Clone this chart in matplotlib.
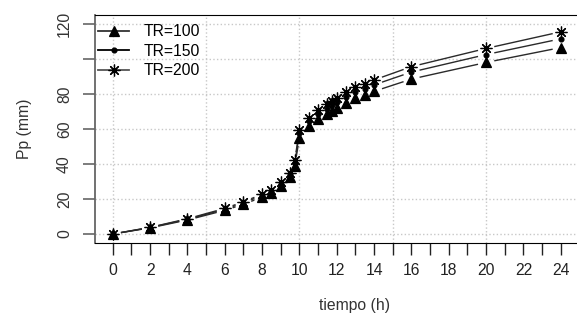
import numpy as np
import matplotlib.pyplot as plt
from matplotlib.lines import Line2D

plt.rcParams['font.family'] = ['Liberation Sans', 'DejaVu Sans']

# datos
tiempo = [0, 2, 4, 6, 7, 8, 8.5, 9, 9.5, 9.75, 10, 10.5, 11, 11.5, 11.75, 12,
          12.5, 13, 13.5, 14, 16, 20, 24]
tr100 = [0, 3.5, 8, 13.5, 17, 21, 23.5, 27.5, 32.5, 39, 55, 61.5, 65.5, 68.5,
         70.5, 72, 75, 77.5, 79.5, 81.5, 88.5, 98, 106.5]
tr150 = [0, 3.7, 8.4, 14.1, 17.8, 22, 24.6, 28.7, 34, 40.8, 57.5, 64.3, 68.4,
         71.6, 73.7, 75.2, 78.4, 81, 83.1, 85.2, 92.5, 102.5, 111.5]
tr200 = [0, 3.8, 8.7, 14.6, 18.4, 22.7, 25.4, 29.7, 35.1, 42.1, 59.4, 66.4,
         70.7, 74, 76.1, 77.8, 81, 83.7, 85.9, 88, 95.6, 106, 115.5]
etiquetas = ["TR=100", "TR=150", "TR=200"]

xticks = list(range(0, 25))
xticklabels = [str(t) if t % 2 == 0 else "" for t in xticks]
yticks = [0, 20, 40, 60, 80, 100, 120]
yticklabels = ["0", "20", "40", "60", "80", "", "120"]
grid_x = [0, 5, 10, 15, 20]

fs = 11.3
fig = plt.figure(figsize=(5.77, 3.2), dpi=100)
# el grafico original esta recortado a la derecha: el eje sigue fuera de la imagen
ax = fig.add_axes([95 / 577, 77 / 320, 520 / 577, 228 / 320])
ax.set_xlim(-0.95, -0.95 + 520 / 18.67)
ax.set_ylim(-5.14, 125.1)

# rejilla punteada
for gx in grid_x:
    ax.axvline(gx, ls=':', color='#c8c8c8', lw=1, zorder=0)
for gy in yticks:
    ax.axhline(gy, ls=':', color='#c8c8c8', lw=1, zorder=0)


def segmentos(x, y, gap=9):
    # como type="b" de R: lineas cortadas alrededor de los puntos
    pts = ax.transData.transform(np.column_stack([x, y]))
    inv = ax.transData.inverted()
    out = []
    for p0, p1 in zip(pts[:-1], pts[1:]):
        d = p1 - p0
        L = np.hypot(*d)
        if L <= 2 * gap:
            continue
        u = d / L
        out.append(inv.transform([p0 + u * gap, p1 - u * gap]))
    return out


estilos = [('^', 6.5, '#333333'), ('o', 3.5, '#000000'), ((8, 2, 0), 8.5, '#555555')]
for vals, (m, ms, c) in zip([tr100, tr150, tr200], estilos):
    for s in segmentos(tiempo, vals):
        ax.plot(s[:, 0], s[:, 1], color='#2a2a2a', lw=1.0, zorder=2)
    ax.plot(tiempo, vals, ls='none', marker=m, ms=ms, color='black',
            mec='black', mew=0.9, zorder=3)

handles = [Line2D([], [], color=c, lw=1.3, marker=m, ms=ms, mfc='black', mec='black', mew=0.9)
           for m, ms, c in estilos]
ax.legend(handles, etiquetas, loc='upper left', bbox_to_anchor=(98 / 577, 1 - 24 / 320),
          bbox_transform=fig.transFigure, frameon=False, fontsize=fs,
          handlelength=2.0, handletextpad=0.9, labelspacing=0.29,
          borderaxespad=0, borderpad=0)

ax.set_xticks(xticks)
ax.set_xticklabels(xticklabels)
ax.set_yticks(yticks)
ax.set_yticklabels(yticklabels)
for lab in ax.get_yticklabels():
    lab.set_rotation(90)
    lab.set_va('center')

ax.tick_params(axis='x', length=8.5, width=1, color='#222222', pad=6,
               labelsize=fs, labelcolor='#222222')
ax.tick_params(axis='y', length=8.5, width=1.2, color='#666666', pad=8,
               labelsize=fs, labelcolor='#333333')

ax.spines['right'].set_visible(False)
ax.spines['top'].set_color('black')
ax.spines['bottom'].set_color('black')
ax.spines['left'].set_color('#666666')
ax.spines['left'].set_linewidth(1.3)

ax.set_xlabel('tiempo (h)', fontsize=fs, color='#333333', labelpad=14)
ax.set_ylabel('Pp (mm)', fontsize=fs, color='#333333', labelpad=18)

fig.savefig('out.png', dpi=100)
